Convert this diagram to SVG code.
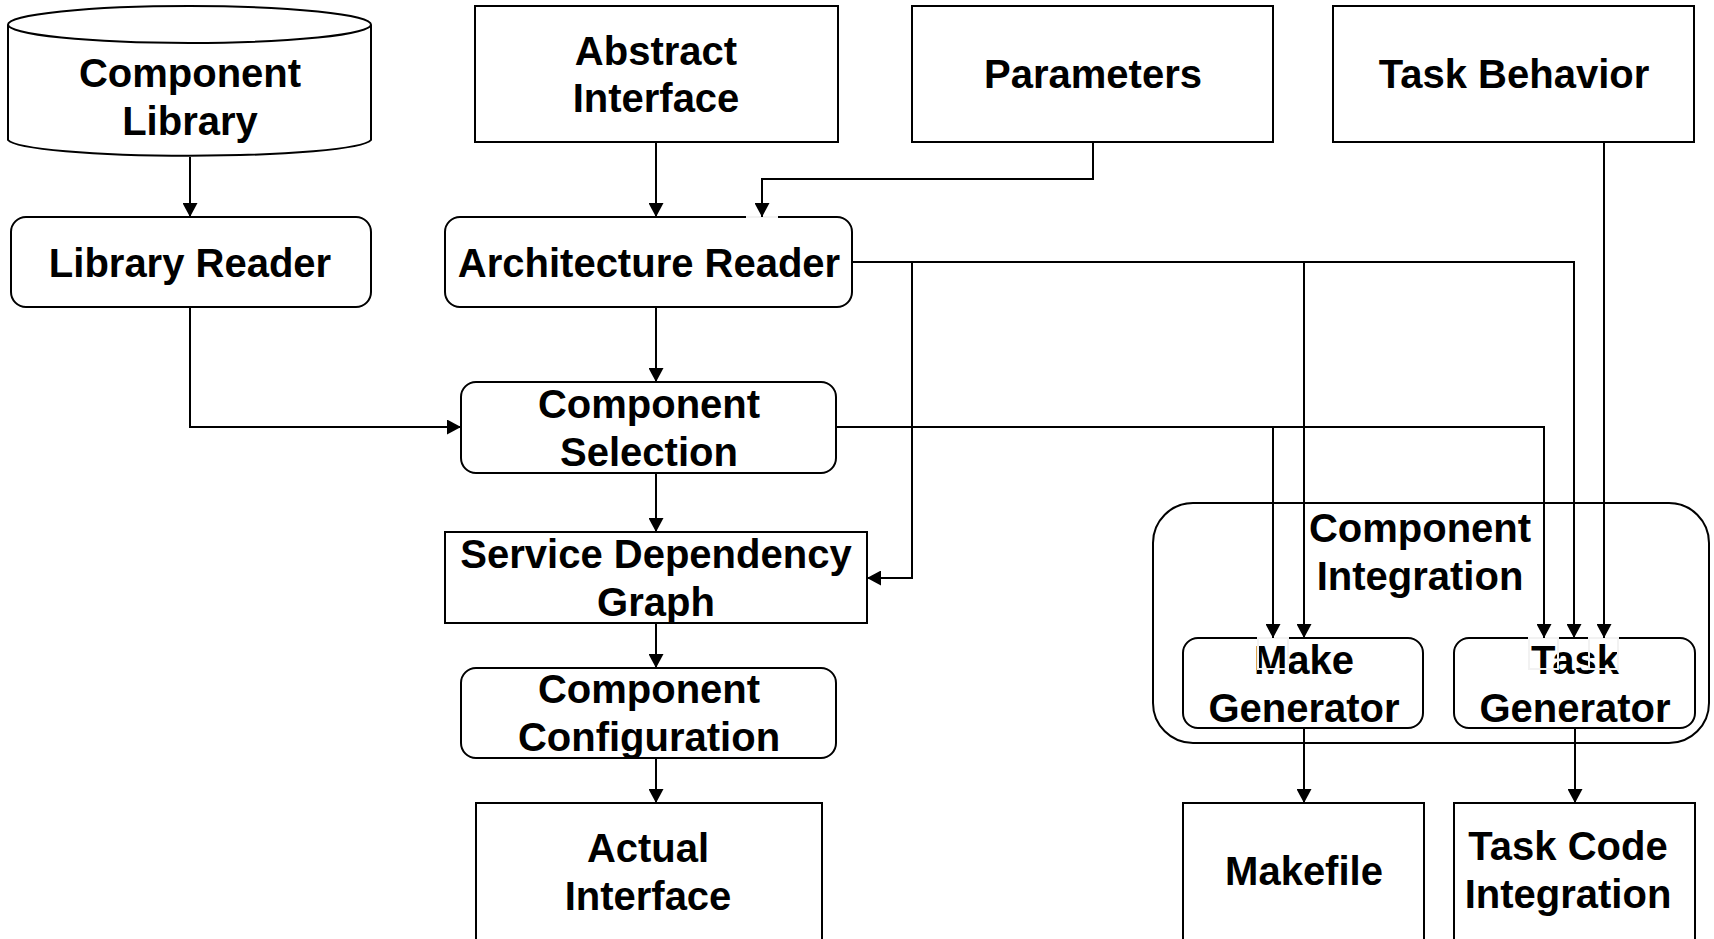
<svg xmlns="http://www.w3.org/2000/svg" width="1714" height="939" viewBox="0 0 1714 939">
  <style>
    .box { fill: #ffffff; stroke: #000000; stroke-width: 2; }
    .lbl { font-family: "Liberation Sans", Arial, sans-serif; font-weight: bold; font-size: 40px; fill: #000000; text-anchor: middle; }
    .edge { fill: none; stroke: #000000; stroke-width: 2; marker-end: url(#arrow); }
    .gap { fill: none; stroke: #f2f2f2; stroke-width: 2; }
  </style>
  <defs>
    <marker id="arrow" viewBox="0 0 14 15" refX="14" refY="7.5" markerWidth="14" markerHeight="15" markerUnits="userSpaceOnUse" orient="auto">
      <path d="M0,0 L14,7.5 L0,15 z" fill="#000000"/>
    </marker>
  </defs>
  <rect x="0" y="0" width="1714" height="939" fill="#ffffff"/>

  <!-- nodes -->
  <g id="component-library">
    <path class="box" d="M8,25 L8,140 A182,17 0 0 0 371,140 L371,25"/>
    <ellipse class="box" cx="189.5" cy="24.5" rx="181.5" ry="18.5"/>
    <text class="lbl" x="190" y="87">Component</text>
    <text class="lbl" x="190" y="135">Library</text>
  </g>
  <g id="abstract-interface">
    <rect class="box" x="475" y="6" width="363" height="136"/>
    <text class="lbl" x="656" y="65">Abstract</text>
    <text class="lbl" x="656" y="112">Interface</text>
  </g>
  <g id="parameters">
    <rect class="box" x="912" y="6" width="361" height="136"/>
    <text class="lbl" x="1093" y="88">Parameters</text>
  </g>
  <g id="task-behavior">
    <rect class="box" x="1333" y="6" width="361" height="136"/>
    <text class="lbl" x="1514" y="88">Task Behavior</text>
  </g>
  <g id="library-reader">
    <rect class="box" x="11" y="217" width="360" height="90" rx="15" ry="15"/>
    <text class="lbl" x="190" y="277">Library Reader</text>
  </g>
  <g id="architecture-reader">
    <rect class="box" x="445" y="217" width="407" height="90" rx="15" ry="15"/>
    <text class="lbl" x="649" y="277">Architecture Reader</text>
  </g>
  <g id="component-selection">
    <rect class="box" x="461" y="382" width="375" height="91" rx="15" ry="15"/>
    <text class="lbl" x="649" y="418">Component</text>
    <text class="lbl" x="649" y="466">Selection</text>
  </g>
  <g id="service-dependency-graph">
    <rect class="box" x="445" y="532" width="422" height="91"/>
    <text class="lbl" x="656" y="568">Service Dependency</text>
    <text class="lbl" x="656" y="616">Graph</text>
  </g>
  <g id="component-configuration">
    <rect class="box" x="461" y="668" width="375" height="90" rx="15" ry="15"/>
    <text class="lbl" x="649" y="703">Component</text>
    <text class="lbl" x="649" y="751">Configuration</text>
  </g>
  <g id="actual-interface">
    <rect class="box" x="476" y="803" width="346" height="140"/>
    <text class="lbl" x="648" y="862">Actual</text>
    <text class="lbl" x="648" y="910">Interface</text>
  </g>
  <g id="component-integration">
    <rect class="box" x="1153" y="503" width="556" height="240" rx="40" ry="40"/>
    <text class="lbl" x="1420" y="542">Component</text>
    <text class="lbl" x="1420" y="590">Integration</text>
  </g>
  <g id="make-generator">
    <rect class="box" x="1183" y="638" width="240" height="90" rx="15" ry="15"/>
    <text class="lbl" x="1304" y="674">Make</text>
    <text class="lbl" x="1304" y="722">Generator</text>
  </g>
  <g id="task-generator">
    <rect class="box" x="1454" y="638" width="241" height="90" rx="15" ry="15"/>
    <text class="lbl" x="1575" y="674">Task</text>
    <text class="lbl" x="1575" y="722">Generator</text>
  </g>
  <g id="makefile">
    <rect class="box" x="1183" y="803" width="241" height="140"/>
    <text class="lbl" x="1304" y="885">Makefile</text>
  </g>
  <g id="task-code-integration">
    <rect class="box" x="1454" y="803" width="241" height="140"/>
    <text class="lbl" x="1568" y="860">Task Code</text>
    <text class="lbl" x="1568" y="908">Integration</text>
  </g>

  <!-- connectors, with the empty edge-label frames drawn over node borders -->
  <g id="connectors">
    <line class="gap" x1="746" y1="217" x2="778" y2="217"/>
    <rect class="gap" x="1258" y="638" width="30" height="31"/>
    <rect class="gap" x="1529" y="638" width="29" height="31"/>
    <rect class="gap" x="1589" y="638" width="29" height="31"/>
    <path class="edge" d="M190,157 L190,217"/>
    <path class="edge" d="M190,307 L190,427 L461,427"/>
    <path class="edge" d="M656,142 L656,217"/>
    <path class="edge" d="M1093,142 L1093,179 L762,179 L762,217"/>
    <path class="edge" d="M656,307 L656,382"/>
    <path class="edge" d="M656,473 L656,532"/>
    <path class="edge" d="M656,623 L656,668"/>
    <path class="edge" d="M656,758 L656,803"/>
    <path class="edge" d="M852,262 L912,262 L912,578 L867,578"/>
    <path class="edge" d="M852,262 L1304,262 L1304,638"/>
    <path class="edge" d="M852,262 L1574,262 L1574,638"/>
    <path class="edge" d="M836,427 L1273,427 L1273,638"/>
    <path class="edge" d="M836,427 L1544,427 L1544,638"/>
    <path class="edge" d="M1604,142 L1604,638"/>
    <path class="edge" d="M1304,728 L1304,803"/>
    <path class="edge" d="M1575,728 L1575,803"/>
  </g>
</svg>
